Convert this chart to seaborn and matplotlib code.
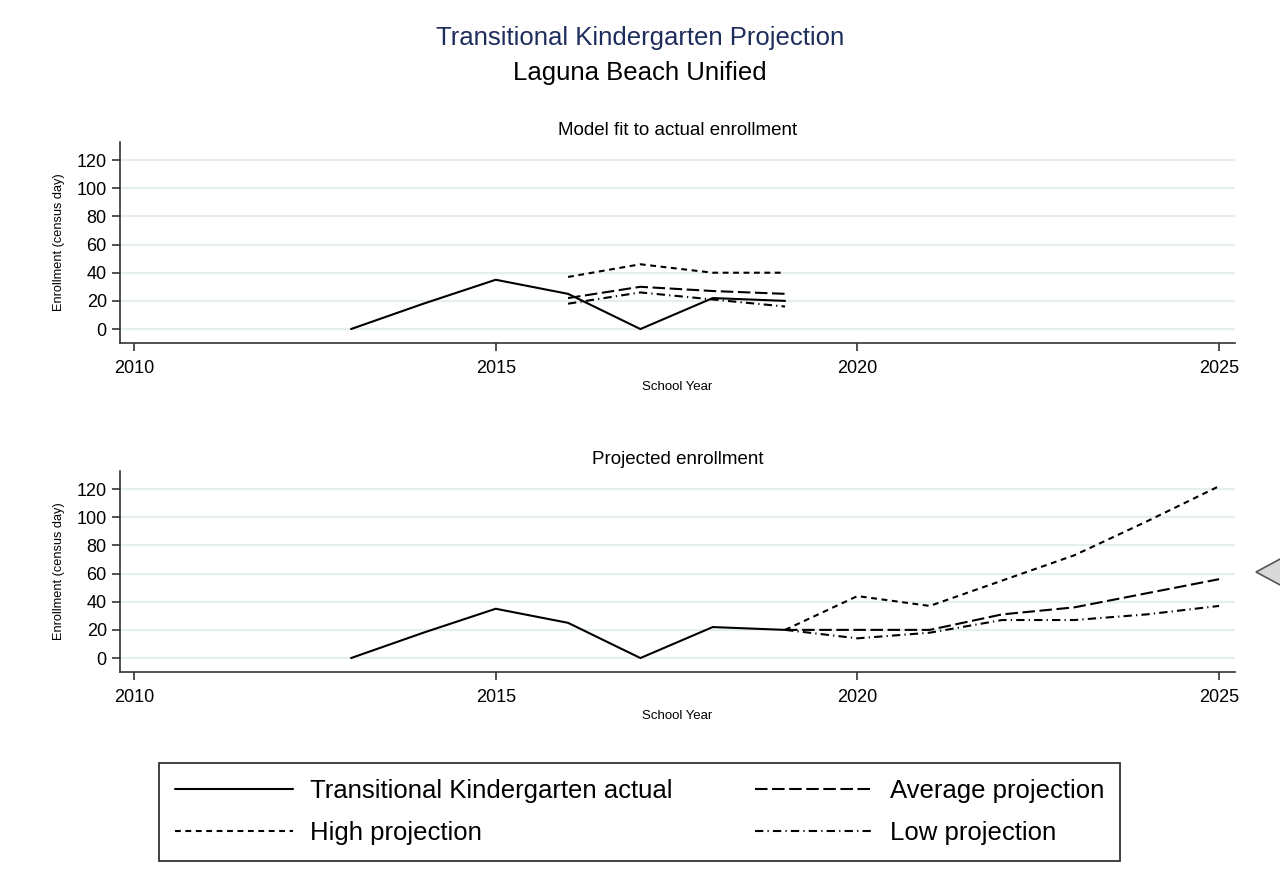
import matplotlib
matplotlib.use("Agg")
import matplotlib.pyplot as plt
from matplotlib.patches import Polygon
import seaborn as sns
import pandas as pd

# actual enrollment
actual_years = [2013, 2014, 2015, 2016, 2017, 2018, 2019]
actual_vals = [0, 18, 35, 25, 0, 22, 20]

# model fit (back-cast) 2016-2019
fit_years = [2016, 2017, 2018, 2019]
fit_high = [37, 46, 40, 40]
fit_avg = [22, 30, 27, 25]
fit_low = [18, 26, 21, 16]

# projections 2019-2025
proj_years = [2019, 2020, 2021, 2022, 2023, 2024, 2025]
proj_high = [20, 44, 37, 55, 73, 97, 122]
proj_avg = [20, 20, 20, 31, 36, 46, 56]
proj_low = [20, 14, 18, 27, 27, 31, 37]

x_ticks = [2010, 2015, 2020, 2025]
y_ticks = [0, 20, 40, 60, 80, 100, 120]

sns.set_style("white")
plt.rcParams["font.family"] = ["Liberation Sans", "DejaVu Sans"]
plt.rcParams["text.color"] = "black"
plt.rcParams["axes.labelcolor"] = "black"
plt.rcParams["xtick.color"] = "black"
plt.rcParams["ytick.color"] = "black"

LW = 1.5
styles = {
    "actual": dict(color="black", lw=LW, ls="-"),
    "avg": dict(color="black", lw=LW, dashes=(6, 2.2)),
    "high": dict(color="black", lw=LW, dashes=(2.8, 2.2)),
    "low": dict(color="black", lw=LW, dashes=(4, 2, 0.6, 2)),
}

fig = plt.figure(figsize=(12.8, 8.91), dpi=100)
fig.patch.set_facecolor("white")

ax1 = fig.add_axes([120 / 1280, 1 - 343 / 891, 1115 / 1280, 201 / 891])
ax2 = fig.add_axes([120 / 1280, 1 - 672 / 891, 1115 / 1280, 201 / 891])


def draw(ax, x, y, key, label=None):
    df = pd.DataFrame({"year": x, "val": y})
    sns.lineplot(data=df, x="year", y="val", ax=ax, label=label, legend=False,
                 **styles[key])


draw(ax1, actual_years, actual_vals, "actual")
draw(ax1, fit_years, fit_high, "high")
draw(ax1, fit_years, fit_avg, "avg")
draw(ax1, fit_years, fit_low, "low")

draw(ax2, actual_years, actual_vals, "actual", "Transitional Kindergarten actual")
draw(ax2, proj_years, proj_high, "high", "High projection")
draw(ax2, proj_years, proj_avg, "avg", "Average projection")
draw(ax2, proj_years, proj_low, "low", "Low projection")

for ax, title in [(ax1, "Model fit to actual enrollment"), (ax2, "Projected enrollment")]:
    ax.set_xlim(2009.806, 2025.22)
    ax.set_ylim(-9.9, 132.8)
    ax.set_xticks(x_ticks)
    ax.set_yticks(y_ticks)
    ax.tick_params(axis="both", direction="out", length=6, width=1.2,
                   labelsize=13, color="#333333", left=True, bottom=True)
    ax.tick_params(axis="x", pad=6)
    ax.grid(axis="y", color="#e6eef0", lw=1.6)
    ax.grid(axis="x", visible=False)
    ax.set_axisbelow(True)
    for s in ["top", "right"]:
        ax.spines[s].set_visible(False)
    for s in ["left", "bottom"]:
        ax.spines[s].set_color("#333333")
        ax.spines[s].set_linewidth(1.2)
    ax.set_title(title, fontsize=13.5, pad=5)
    ax.set_xlabel("School Year", fontsize=9.5, labelpad=3)
    ax.set_ylabel("Enrollment (census day)", fontsize=9.2, labelpad=8)

fig.text(0.5, 1 - 38 / 891, "Transitional Kindergarten Projection", ha="center",
         va="center", fontsize=18.5, color="#1f2d5c")
fig.text(0.5, 1 - 73 / 891, "Laguna Beach Unified", ha="center", va="center",
         fontsize=18.5, color="black")

handles, labels = ax2.get_legend_handles_labels()
order = [0, 1, 2, 3]
leg = fig.legend([handles[i] for i in order], [labels[i] for i in order],
                 loc="center", ncol=2, mode="expand", borderaxespad=0,
                 bbox_to_anchor=(159 / 1280, 1 - 862 / 891, 961 / 1280, 100 / 891),
                 fontsize=18.5, frameon=True, fancybox=False, handlelength=4.6,
                 handletextpad=0.65, labelspacing=0.72, borderpad=0.62,
                 columnspacing=2.0)
leg.get_frame().set_edgecolor("black")
leg.get_frame().set_linewidth(1.3)

# grey slide arrow at the right edge
tri = Polygon([[1256 / 1280, 1 - 572 / 891], [1282 / 1280, 1 - 558 / 891],
               [1282 / 1280, 1 - 586 / 891]], closed=True, transform=fig.transFigure,
              facecolor="#d9d9d9", edgecolor="#555555", lw=1.2, clip_on=False)
fig.patches.append(tri)

fig.savefig("out.png", dpi=100)
